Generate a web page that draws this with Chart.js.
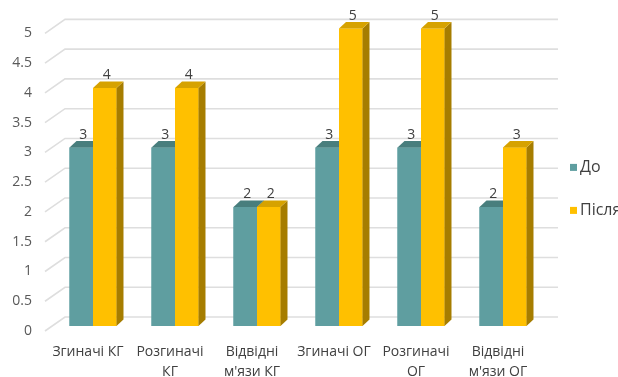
<!DOCTYPE html>
<html lang="uk">
<head>
<meta charset="utf-8">
<title>До / Після</title>
<script src="https://cdn.jsdelivr.net/npm/chart.js@4/dist/chart.umd.min.js"></script>
<style>
  html, body { margin: 0; padding: 0; background: #fff; }
  #wrap { width: 618px; height: 377px; position: relative; }
</style>
</head>
<body>
<div id="wrap"><canvas id="chart"></canvas></div>
<script>
// ============================================================
// DATA
// ============================================================
const categories = [
  'Згиначі КГ',
  ['Розгиначі', 'КГ'],
  ['Відвідні', "м'язи КГ"],
  'Згиначі ОГ',
  ['Розгиначі', 'ОГ'],
  ['Відвідні', "м'язи ОГ"]
];
const seriesNames = ['До', 'Після'];
const beforeValues = [3, 3, 2, 3, 3, 2];
const afterValues = [4, 4, 2, 5, 5, 3];

const COLORS = {
  teal: '#5F9EA0',
  tealTop: '#487E7D',
  tealSide: '#3E6C6B',
  gold: '#FFC000',
  goldTop: '#D6A200',
  goldSide: '#A67D00',
  grid: '#DEDEDE',
  text: '#404040',
  tick: '#595959'
};

// depth of the bars and of the back wall (px)
const BAR_DX = 7, BAR_DY = 6.5;
const WALL_FRONT = { dx: -7, dy: 5 };
const WALL_BACK = { dx: 13, dy: -9 };

const FONT = "'Open Sans', 'DejaVu Sans', sans-serif";

// ============================================================
// 3D HELPERS
// ============================================================
function poly(ctx, pts, color) {
  ctx.beginPath();
  ctx.moveTo(pts[0][0], pts[0][1]);
  for (let i = 1; i < pts.length; i++) ctx.lineTo(pts[i][0], pts[i][1]);
  ctx.closePath();
  ctx.fillStyle = color;
  ctx.fill();
}

// back wall + left wall grid lines, drawn from the y scale ticks
const wallGrid = {
  id: 'wallGrid',
  beforeDatasetsDraw(chart) {
    const { ctx, chartArea } = chart;
    const y = chart.scales.y;
    ctx.save();
    ctx.strokeStyle = COLORS.grid;
    ctx.lineWidth = 1.6;
    y.ticks.forEach(t => {
      const py = y.getPixelForValue(t.value);
      ctx.beginPath();
      ctx.moveTo(chartArea.left + WALL_FRONT.dx, py + WALL_FRONT.dy);
      ctx.lineTo(chartArea.left + WALL_BACK.dx, py + WALL_BACK.dy);
      ctx.lineTo(chartArea.right + WALL_BACK.dx + 1, py + WALL_BACK.dy);
      ctx.stroke();
    });
    ctx.restore();
  }
};

// Bars are stacked front-to-back per dataset: each bar element is
// (re)drawn by Chart.js, then its top and side faces go on top of it,
// so a later (taller) bar hides the faces of the bar to its left.
const barDepth = {
  id: 'barDepth',
  afterDatasetsDraw(chart) {
    const { ctx } = chart;
    ctx.save();
    chart.data.datasets.forEach((ds, di) => {
      chart.getDatasetMeta(di).data.forEach(bar => {
        bar.draw(ctx);
        const { x, y, base, width } = bar.getProps(['x', 'y', 'base', 'width'], true);
        const l = x - width / 2, r = x + width / 2;
        poly(ctx, [[r, y], [r + BAR_DX, y - BAR_DY], [r + BAR_DX, base - BAR_DY], [r, base]], ds.sideColor);
        poly(ctx, [[l, y], [l + BAR_DX, y - BAR_DY], [r + BAR_DX, y - BAR_DY], [r, y]], ds.topColor);
      });
    });
    // value labels above each bar
    ctx.fillStyle = COLORS.text;
    ctx.font = `14px ${FONT}`;
    ctx.textAlign = 'center';
    ctx.textBaseline = 'bottom';
    chart.data.datasets.forEach((ds, di) => {
      chart.getDatasetMeta(di).data.forEach((bar, i) => {
        const { x, y } = bar.getProps(['x', 'y'], true);
        ctx.fillText(String(ds.data[i]), x + 2, y - BAR_DY + 1);
      });
    });
    ctx.restore();
  }
};

// legend at the right edge
const sideLegend = {
  id: 'sideLegend',
  afterDraw(chart) {
    const { ctx, chartArea } = chart;
    ctx.save();
    ctx.font = `16px ${FONT}`;
    ctx.textBaseline = 'middle';
    ctx.textAlign = 'left';
    chart.data.datasets.forEach((ds, i) => {
      const cx = chartArea.right + 26;
      const cy = chartArea.top + 139 + i * 43;
      ctx.fillStyle = ds.backgroundColor;
      ctx.fillRect(cx, cy - 3.5, 7, 7);
      ctx.fillStyle = COLORS.text;
      ctx.fillText(ds.label, cx + 10, cy);
    });
    ctx.restore();
  }
};

// ============================================================
// CHART
// ============================================================
new Chart(document.getElementById('chart'), {
  type: 'bar',
  data: {
    labels: categories,
    datasets: [
      {
        label: seriesNames[0],
        data: beforeValues,
        backgroundColor: COLORS.teal,
        topColor: COLORS.tealTop,
        sideColor: COLORS.tealSide
      },
      {
        label: seriesNames[1],
        data: afterValues,
        backgroundColor: COLORS.gold,
        topColor: COLORS.goldTop,
        sideColor: COLORS.goldSide
      }
    ]
  },
  options: {
    responsive: true,
    maintainAspectRatio: false,
    animation: false,
    layout: { padding: { top: 28, right: 74, bottom: 0, left: 0 } },
    datasets: { bar: { categoryPercentage: 0.573, barPercentage: 1.0, borderWidth: 0 } },
    plugins: { legend: { display: false }, tooltip: { enabled: false } },
    scales: {
      x: {
        grid: { display: false, drawTicks: false },
        border: { display: false },
        ticks: {
          color: COLORS.text,
          font: { family: FONT, size: 14, lineHeight: 1.45 },
          padding: 16,
          labelOffset: -5,
          maxRotation: 0,
          autoSkip: false
        },
        afterFit(scale) { scale.height = 51; }
      },
      y: {
        min: 0,
        max: 5,
        grid: { display: false, drawTicks: false },
        border: { display: false },
        ticks: {
          stepSize: 0.5,
          color: COLORS.tick,
          font: { family: FONT, size: 14 },
          padding: 20,
          labelOffset: 5,
          callback: v => String(v)
        },
        afterFit(scale) { scale.width = 52; }
      }
    }
  },
  plugins: [wallGrid, barDepth, sideLegend]
});
</script>
</body>
</html>
